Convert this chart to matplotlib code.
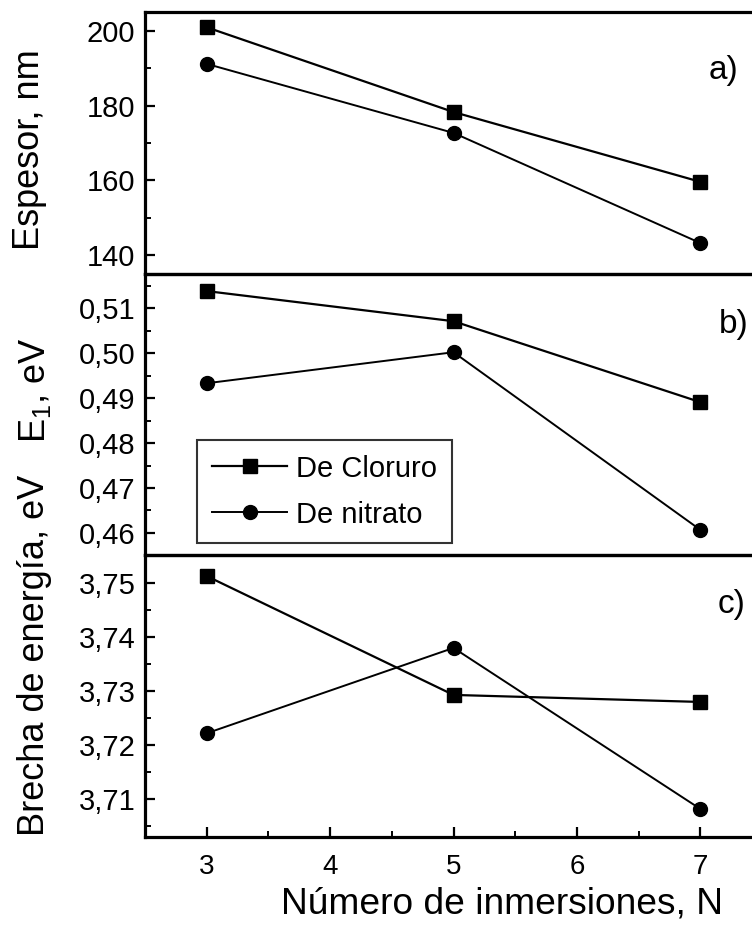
import matplotlib
matplotlib.use("Agg")
import matplotlib.pyplot as plt
from matplotlib.ticker import MultipleLocator, FuncFormatter

plt.rcParams['font.family'] = ['Liberation Sans', 'DejaVu Sans']
plt.rcParams['mathtext.fontset'] = 'custom'
plt.rcParams['mathtext.rm'] = 'Liberation Sans'
plt.rcParams['mathtext.it'] = 'Liberation Sans:italic'

# Number of immersions
inmersiones = [3, 5, 7]

# a) thickness (nm)
espesor_cloruro = [201.0, 178.3, 159.6]
espesor_nitrato = [191.2, 172.7, 143.2]

# b) E1 (eV)
e1_cloruro = [0.5138, 0.5071, 0.4891]
e1_nitrato = [0.4933, 0.5002, 0.4607]

# c) band gap (eV)
brecha_cloruro = [3.7513, 3.7293, 3.7280]
brecha_nitrato = [3.7222, 3.7380, 3.7082]

serie_labels = ["De Cloruro", "De nitrato"]
panel_labels = ["a)", "b)", "c)"]
x_ticks = [3, 4, 5, 6, 7]

W, H = 752, 931
fig = plt.figure(figsize=(W / 100, H / 100), dpi=100)


def fx(px):
    return px / W


def fy(py):
    return 1 - py / H


left_px, right_px = 145, 762
rows = [(12, 274), (274, 555), (555, 837)]
axes = []
for top, bot in rows:
    ax = fig.add_axes([fx(left_px), fy(bot), fx(right_px - left_px), (bot - top) / H])
    axes.append(ax)

ax_a, ax_b, ax_c = axes

comma = FuncFormatter(lambda v, p: (f"{v:.2f}").replace(".", ","))

panels = [
    (ax_a, espesor_cloruro, espesor_nitrato, (134.9, 205.1), 20, 10, None),
    (ax_b, e1_cloruro, e1_nitrato, (0.4551, 0.5176), 0.01, 0.005, comma),
    (ax_c, brecha_cloruro, brecha_nitrato, (3.7030, 3.7552), 0.01, 0.005, comma),
]

for ax, yc, yn, ylim, maj, mnr, fmt in panels:
    ax.plot(inmersiones, yc, color="black", lw=1.6, marker="s", ms=9.5,
            mec="black", mfc="black", label=serie_labels[0], zorder=3)
    ax.plot(inmersiones, yn, color="black", lw=1.4, marker="o", ms=10,
            mec="black", mfc="black", label=serie_labels[1], zorder=3)
    ax.set_xlim(2.5, 7.5)
    ax.set_ylim(*ylim)
    ax.yaxis.set_major_locator(MultipleLocator(maj))
    ax.yaxis.set_minor_locator(MultipleLocator(mnr))
    if fmt is not None:
        ax.yaxis.set_major_formatter(fmt)
    ax.tick_params(axis="y", which="major", direction="in", length=7, width=1.6,
                   labelsize=21, pad=7)
    ax.tick_params(axis="y", which="minor", direction="in", length=4, width=1.4)
    ax.spines["right"].set_visible(False)
    for s in ("left", "top", "bottom"):
        ax.spines[s].set_linewidth(2.3)
    ax.set_facecolor("none")

for ax in (ax_a, ax_b):
    ax.tick_params(axis="x", which="both", bottom=False, labelbottom=False)

ax_c.set_xticks(x_ticks)
ax_c.xaxis.set_minor_locator(MultipleLocator(0.5))
ax_c.tick_params(axis="x", which="major", direction="in", length=7, width=1.6,
                 labelsize=20, pad=12)
ax_c.tick_params(axis="x", which="minor", direction="in", length=4, width=1.4)

# panel letters
for ax, lab, (px, py) in zip(axes, panel_labels, [(724, 71), (734, 325), (732, 605)]):
    fig.text(fx(px), fy(py), lab, fontsize=24, ha="center", va="center")

# axis titles
fig.text(fx(30), fy(150), "Espesor, nm", rotation=90, fontsize=26,
         ha="center", va="center")
fig.text(fx(35), fy(390), r"E$_\mathregular{1}$, eV", rotation=90, fontsize=26,
         ha="center", va="center")
fig.text(fx(35), fy(655), "Brecha de energía, eV", rotation=90, fontsize=26,
         ha="center", va="center")
fig.text(fx(502), fy(904), "Número de inmersiones, N", fontsize=26.7,
         ha="center", va="center")

leg = ax_b.legend(loc="upper left", bbox_to_anchor=(fx(197), fy(440)),
                  bbox_transform=fig.transFigure, fontsize=21, frameon=True,
                  fancybox=False, edgecolor="black", borderpad=0.5,
                  handlelength=2.6, handletextpad=0.3, labelspacing=0.62,
                  borderaxespad=0)
leg.get_frame().set_linewidth(1.5)

fig.savefig("out.png", dpi=100)
